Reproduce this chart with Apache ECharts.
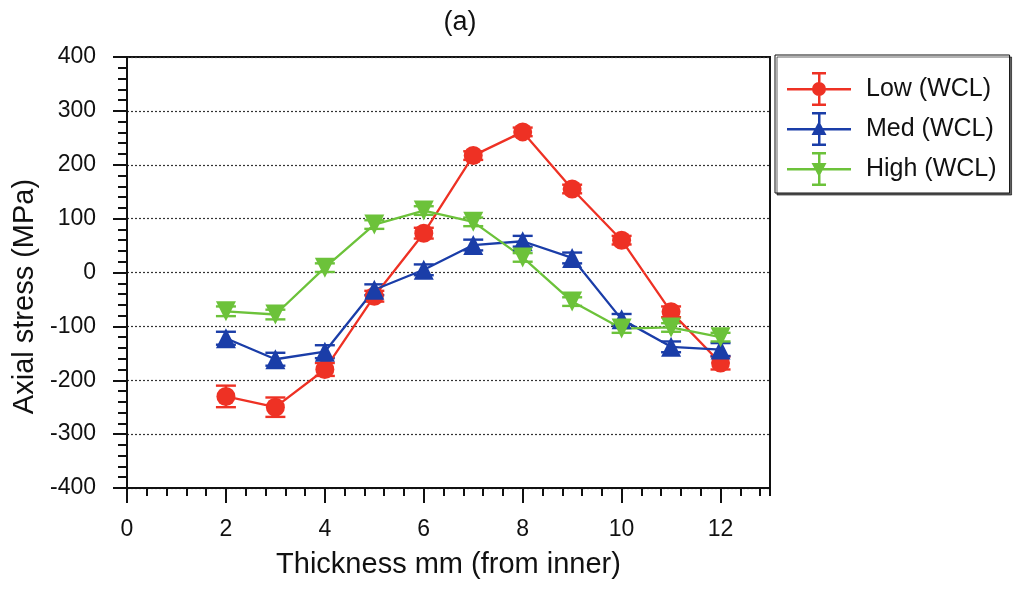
<!DOCTYPE html>
<html>
<head>
<meta charset="utf-8">
<script src="https://cdn.jsdelivr.net/npm/echarts@6/dist/echarts.min.js"></script>
<style>html,body{margin:0;padding:0;background:#fff}#c{width:1015px;height:590px}</style>
</head>
<body>
<div id="c"></div>
<script>
const thickness = [2, 3, 4, 5, 6, 7, 8, 9, 10, 11, 12];
const lowValues  = [-230, -250, -180, -44, 73, 217, 261, 155, 60, -73, -168];
const lowErr     = [20, 18, 12, 10, 10, 8, 8, 8, 8, 10, 12];
const medValues  = [-122, -161, -147, -32, 5, 51, 58, 27, -87, -138, -143];
const medErr     = [12, 12, 12, 10, 10, 10, 10, 10, 10, 10, 12];
const highValues = [-72, -78, 9, 89, 115, 94, 28, -54, -104, -102, -120];
const highErr    = [9, 9, 8, 8, 8, 8, 8, 8, 8, 8, 8];
const seriesNames = ['Low (WCL)', 'Med (WCL)', 'High (WCL)'];
const colors = ['#ee3124', '#1a3da8', '#6cc23a'];
const yTicks = [-400, -300, -200, -100, 0, 100, 200, 300, 400];

const font = '"Liberation Sans", Arial, sans-serif';

function pts(vals) { return thickness.map((x, i) => [x, vals[i]]); }
function errs(vals, e) { return thickness.map((x, i) => [x, vals[i] - e[i], vals[i] + e[i]]); }

function errorSeries(vals, e, color) {
  return {
    type: 'custom',
    xAxisIndex: 0, yAxisIndex: 0,
    data: errs(vals, e),
    z: 3,
    silent: true,
    renderItem: function (params, api) {
      const x = api.value(0);
      const lo = api.coord([x, api.value(1)]);
      const hi = api.coord([x, api.value(2)]);
      const hw = 10;
      const st = { stroke: color, lineWidth: 2.4 };
      return {
        type: 'group',
        children: [
          { type: 'line', shape: { x1: lo[0], y1: lo[1], x2: hi[0], y2: hi[1] }, style: st },
          { type: 'line', shape: { x1: lo[0] - hw, y1: lo[1], x2: lo[0] + hw, y2: lo[1] }, style: st },
          { type: 'line', shape: { x1: hi[0] - hw, y1: hi[1], x2: hi[0] + hw, y2: hi[1] }, style: st }
        ]
      };
    }
  };
}

const baseIcon = 'M0,19 H64 V21.5 H0 Z M31,4 H33.5 V36 H31 Z M25,3 H39 V5.5 H25 Z M25,34.5 H39 V37 H25 Z ';
const icons = [
  'path://' + baseIcon + 'M25,20 A7,7 0 1,1 39,20 A7,7 0 1,1 25,20 Z',
  'path://' + baseIcon + 'M32,12 L39.5,26 L24.5,26 Z',
  'path://' + baseIcon + 'M24.5,14 L39.5,14 L32,28 Z'
];

function lineSeries(name, vals, color, symbol, size) {
  return {
    name: name,
    type: 'line',
    xAxisIndex: 0, yAxisIndex: 0,
    data: pts(vals),
    symbol: symbol,
    symbolSize: size,
    showAllSymbol: true,
    z: 4,
    lineStyle: { color: color, width: 2.3 },
    itemStyle: { color: color, borderWidth: 0 },
    emphasis: { disabled: true },
    animation: false
  };
}

const chart = echarts.init(document.getElementById('c'));
chart.setOption({
  animation: false,
  backgroundColor: '#fff',
  title: {
    text: '(a)', left: 455, top: 4, textAlign: 'center',
    textStyle: { fontFamily: font, fontSize: 27, fontWeight: 'normal', color: '#111' }
  },
  grid: {
    left: 127, right: 245, top: 57, bottom: 102,
    show: true, borderColor: '#111', borderWidth: 2, backgroundColor: 'transparent'
  },
  legend: {
    orient: 'vertical',
    left: 775, top: 55,
    padding: [17, 13, 7, 12],
    itemWidth: 64, itemHeight: 34,
    itemGap: 6,
    backgroundColor: '#fff',
    borderColor: '#111', borderWidth: 1,
    shadowColor: 'rgba(0,0,0,0.6)', shadowOffsetX: 2, shadowOffsetY: 2, shadowBlur: 0,
    selectedMode: false,
    data: seriesNames.map((n, i) => ({ name: n, icon: icons[i] })),
    textStyle: { fontFamily: font, fontSize: 25, color: '#111', padding: [0, 0, 0, 10] }
  },
  xAxis: [{
    type: 'value', min: 0, max: 13, interval: 2,
    name: 'Thickness mm (from inner)', nameLocation: 'middle', nameGap: 62,
    nameTextStyle: { fontFamily: font, fontSize: 29, color: '#111' },
    axisLine: { show: true, onZero: false, lineStyle: { color: '#111', width: 2 } },
    axisTick: { show: true, inside: false, length: 15, lineStyle: { color: '#111', width: 2 } },
    minorTick: { show: false },
    axisLabel: { fontFamily: font, fontSize: 23, color: '#111', margin: 30, showMaxLabel: false },
    splitLine: { show: false }
  }, {
    type: 'value', min: 0, max: 13, interval: 0.4, position: 'bottom',
    axisLine: { show: false, onZero: false },
    axisTick: { show: true, inside: false, length: 8, lineStyle: { color: '#111', width: 2 } },
    axisLabel: { show: false },
    splitLine: { show: false }
  }],
  yAxis: {
    type: 'value', min: -400, max: 400, interval: 100,
    name: 'Axial stress (MPa)', nameLocation: 'middle', nameGap: 84,
    nameTextStyle: { fontFamily: font, fontSize: 29, color: '#111', padding: [0, 48, 0, 0] },
    axisLine: { show: true, onZero: false, lineStyle: { color: '#111', width: 2 } },
    axisTick: { show: true, inside: false, length: 14, lineStyle: { color: '#111', width: 2 } },
    minorTick: { show: true, splitNumber: 5, length: 9, lineStyle: { color: '#111', width: 2 } },
    axisLabel: {
      fontFamily: font, fontSize: 23, color: '#111', margin: 31,
      formatter: v => (yTicks.indexOf(v) >= 0 ? String(v) : '')
    },
    splitLine: { show: true, lineStyle: { color: '#333', width: 1.2, type: [2, 2] } }
  },
  series: [
    errorSeries(lowValues, lowErr, colors[0]),
    errorSeries(medValues, medErr, colors[1]),
    errorSeries(highValues, highErr, colors[2]),
    lineSeries(seriesNames[0], lowValues, colors[0], 'circle', 19),
    lineSeries(seriesNames[1], medValues, colors[1], 'triangle', 20),
    lineSeries(seriesNames[2], highValues, colors[2], 'path://M0,0 L10,0 L5,9 Z', 20)
  ]
});
</script>
</body>
</html>
